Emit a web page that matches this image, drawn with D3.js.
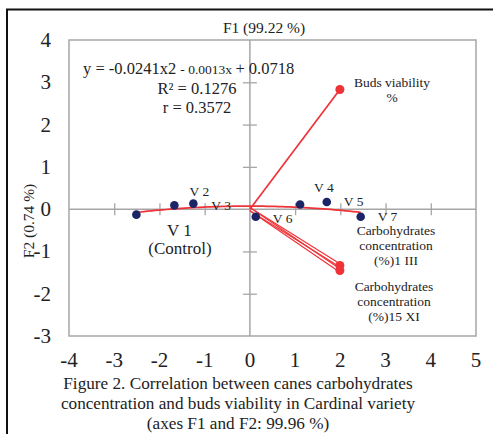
<!DOCTYPE html>
<html>
<head>
<meta charset="utf-8">
<script src="https://cdn.jsdelivr.net/npm/d3@7"></script>
<style>
  body { margin: 0; background: #fff; }
  text { font-family: "Liberation Serif", "Times New Roman", serif; fill: #222; }
</style>
</head>
<body>
<svg id="chart"></svg>
<script>
// observations (F1, F2)
var obsNames = ["V 1", "V 2", "V 3", "V 4", "V 5", "V 6", "V 7"];
var obsF1 = [-2.51, -1.67, -1.25, 1.11, 1.70, 0.13, 2.45];
var obsF2 = [-0.13, 0.09, 0.13, 0.11, 0.17, -0.18, -0.18];

// variables (vectors from origin)
var varNames = [["Buds viability", "%"],
                ["Carbohydrates", "concentration", "(%)1 III"],
                ["Carbohydrates", "concentration", "(%)15 XI"]];
var varF1 = [1.99, 1.99, 1.99];
var varF2 = [2.83, -1.33, -1.45];

// trendline y = a x^2 + b x + c
var trendCoef = [-0.0241, -0.0013, 0.0718];
var trendRange = [-2.51, 2.45];

var xTicks = [-4, -3, -2, -1, 0, 1, 2, 3, 4, 5];
var yTicks = [-3, -2, -1, 0, 1, 2, 3, 4];

var W = 493, H = 434;
var box = {left: 69, right: 476, top: 40, bottom: 336};

var svg = d3.select("#chart").attr("width", W).attr("height", H);

var x = d3.scaleLinear().domain([-4, 5]).range([box.left, box.right]);
var y = d3.scaleLinear().domain([-3, 4]).range([box.bottom, box.top]);

var grey = "#a6a6a6", red = "#ee3338", navy = "#1b2566";

// outer frame (top + left)
svg.append("path")
  .attr("d", "M7,434 V9.5 H493")
  .attr("fill", "none").attr("stroke", "#111").attr("stroke-width", 2);

// plot box
svg.append("rect")
  .attr("x", box.left).attr("y", box.top)
  .attr("width", box.right - box.left).attr("height", box.bottom - box.top)
  .attr("fill", "none").attr("stroke", grey).attr("stroke-width", 1.5);

// zero axes with crossing ticks
var xAxis = d3.axisBottom(x).tickValues(xTicks.filter(function (d) {return d > -4 && d < 5 && d != 0;}))
  .tickSizeInner(0).tickSizeOuter(0).tickFormat("");
var gx = svg.append("g").attr("transform", "translate(0," + y(0) + ")").call(xAxis);
gx.select(".domain").remove();
gx.selectAll(".tick line").attr("y1", -6).attr("y2", 6).attr("stroke", grey).attr("stroke-width", 1.3);
svg.append("line")
  .attr("x1", box.left).attr("x2", box.right).attr("y1", y(0)).attr("y2", y(0))
  .attr("stroke", grey).attr("stroke-width", 1.5);

var yAxis = d3.axisLeft(y).tickValues(yTicks.filter(function (d) {return d > -3 && d < 4 && d != 0;}))
  .tickSizeInner(0).tickSizeOuter(0).tickFormat("");
var gy = svg.append("g").attr("transform", "translate(" + x(0) + ",0)").call(yAxis);
gy.select(".domain").remove();
gy.selectAll(".tick line").attr("x1", -7).attr("x2", 7).attr("stroke", grey).attr("stroke-width", 1.3);
svg.append("line")
  .attr("x1", x(0)).attr("x2", x(0)).attr("y1", box.top).attr("y2", box.bottom)
  .attr("stroke", grey).attr("stroke-width", 1.5);

// tick labels
svg.selectAll(".xlab").data(xTicks).enter().append("text")
  .attr("x", function (d) {return x(d);}).attr("y", 367)
  .attr("text-anchor", "middle").style("font-size", "21px")
  .text(function (d) {return d;});
svg.selectAll(".ylab").data(yTicks).enter().append("text")
  .attr("x", 51).attr("y", function (d) {return y(d) + 7;})
  .attr("text-anchor", "end").style("font-size", "21px")
  .text(function (d) {return d;});

// axis titles
svg.append("text").attr("x", 264).attr("y", 33).attr("text-anchor", "middle")
  .style("font-size", "15.5px").text("F1 (99.22 %)");
svg.append("text").attr("transform", "translate(34,221) rotate(-90)")
  .attr("text-anchor", "middle").style("font-size", "15.5px").text("F2 (0.74 %)");

// trendline
var tx = d3.range(0, 61).map(function (i) {return trendRange[0] + (trendRange[1] - trendRange[0]) * i / 60;});
var trendLine = d3.line()
  .x(function (d) {return x(d);})
  .y(function (d) {return y(trendCoef[0] * d * d + trendCoef[1] * d + trendCoef[2]);});
svg.append("path").datum(tx).attr("d", trendLine)
  .attr("fill", "none").attr("stroke", red).attr("stroke-width", 1.7);

// variable vectors (carbohydrate ones are drawn doubled)
varF1.forEach(function (v, i) {
  var offs = i == 0 ? [0] : [-1.7, 1.7];
  offs.forEach(function (o) {
    svg.append("line")
      .attr("x1", x(0)).attr("y1", y(0) + o)
      .attr("x2", x(v)).attr("y2", y(varF2[i]) + o)
      .attr("stroke", red).attr("stroke-width", i == 0 ? 1.7 : 1.2);
  });
  svg.append("circle").attr("cx", x(v)).attr("cy", y(varF2[i])).attr("r", 4.5).attr("fill", red);
});

// variable labels
var varLabelPos = [[392, 87], [396, 235], [394, 291]];
varNames.forEach(function (lines, i) {
  var t = svg.append("text").attr("text-anchor", "middle").style("font-size", "13.5px");
  lines.forEach(function (s, j) {
    t.append("tspan").attr("x", varLabelPos[i][0]).attr("y", varLabelPos[i][1] + j * 15).text(s);
  });
});

// observation points
svg.selectAll(".obs").data(obsF1).enter().append("circle")
  .attr("cx", function (d) {return x(d);})
  .attr("cy", function (d, i) {return y(obsF2[i]);})
  .attr("r", 4.3).attr("fill", navy);

// observation labels (offsets from point)
var obsLabelOff = [[43, 21], [25, -9], [18, 6], [14, -12], [17, 4], [17, 6], [17, 4]];
obsNames.forEach(function (n, i) {
  var anchor = (i == 0 || i == 1) ? "middle" : "start";
  svg.append("text")
    .attr("x", x(obsF1[i]) + obsLabelOff[i][0])
    .attr("y", y(obsF2[i]) + obsLabelOff[i][1])
    .attr("text-anchor", anchor)
    .style("font-size", i == 0 ? "17px" : "13.5px")
    .text(n);
});
svg.append("text").attr("x", 180).attr("y", 254).attr("text-anchor", "middle")
  .style("font-size", "17px").text("(Control)");

// equation
var eq = svg.append("text").attr("x", 83).attr("y", 74).style("font-size", "16.5px");
eq.append("tspan").text("y = -0.0241x2 ");
eq.append("tspan").style("font-size", "13.5px").text("- 0.0013x ");
eq.append("tspan").text("+ 0.0718");
svg.append("text").attr("x", 197).attr("y", 94).attr("text-anchor", "middle")
  .style("font-size", "16.5px").text("R² = 0.1276");
svg.append("text").attr("x", 197).attr("y", 113).attr("text-anchor", "middle")
  .style("font-size", "16.5px").text("r = 0.3572");

// caption
var caption = ["Figure 2. Correlation between canes carbohydrates",
               "concentration and buds viability in Cardinal variety",
               "(axes F1 and F2: 99.96 %)"];
caption.forEach(function (s, i) {
  svg.append("text").attr("x", 238).attr("y", 389 + i * 20)
    .attr("text-anchor", "middle").style("font-size", "17.2px").text(s);
});
</script>
</body>
</html>
